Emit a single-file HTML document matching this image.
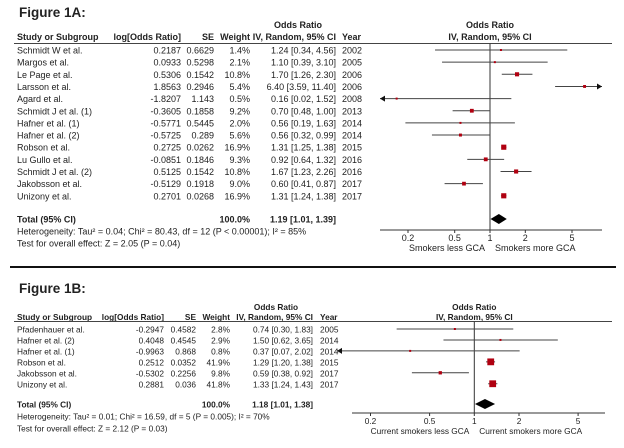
<!DOCTYPE html>
<html><head><meta charset="utf-8"><style>
body{margin:0;background:#fff;}
svg{display:block;font-family:"Liberation Sans",Arial,sans-serif;}
text{fill:#222;}
</style></head><body>
<svg id="c" width="624" height="448" viewBox="0 0 624 448"></svg>
<script>
// ---- Figure 1A data ----
const studiesA = ["Schmidt W et al.","Margos et al.","Le Page et al.","Larsson et al.","Agard et al.","Schmidt J et al. (1)","Hafner et al. (1)","Hafner et al. (2)","Robson et al.","Lu Gullo et al.","Schmidt J et al. (2)","Jakobsson et al.","Unizony et al."];
const logA = ["0.2187","0.0933","0.5306","1.8563","-1.8207","-0.3605","-0.5771","-0.5725","0.2725","-0.0851","0.5125","-0.5129","0.2701"];
const seA = ["0.6629","0.5298","0.1542","0.2946","1.143","0.1858","0.5445","0.289","0.0262","0.1846","0.1542","0.1918","0.0268"];
const weightA = [1.4,2.1,10.8,5.4,0.5,9.2,2.0,5.6,16.9,9.3,10.8,9.0,16.9];
const orA = [1.24,1.10,1.70,6.40,0.16,0.70,0.56,0.56,1.31,0.92,1.67,0.60,1.31];
const loA = [0.34,0.39,1.26,3.59,0.02,0.48,0.19,0.32,1.25,0.64,1.23,0.41,1.24];
const hiA = [4.56,3.10,2.30,11.40,1.52,1.00,1.63,0.99,1.38,1.32,2.26,0.87,1.38];
const yearA = ["2002","2005","2006","2006","2008","2013","2014","2014","2015","2016","2016","2017","2017"];
const totalA = [1.19,1.01,1.39];
// ---- Figure 1B data ----
const studiesB = ["Pfadenhauer et al.","Hafner et al. (2)","Hafner et al. (1)","Robson et al.","Jakobsson et al.","Unizony et al."];
const logB = ["-0.2947","0.4048","-0.9963","0.2512","-0.5302","0.2881"];
const seB = ["0.4582","0.4545","0.868","0.0352","0.2256","0.036"];
const weightB = [2.8,2.9,0.8,41.9,9.8,41.8];
const orB = [0.74,1.50,0.37,1.29,0.59,1.33];
const loB = [0.30,0.62,0.07,1.20,0.38,1.24];
const hiB = [1.83,3.65,2.02,1.38,0.92,1.43];
const yearB = ["2005","2014","2014","2015","2017","2017"];
const totalB = [1.18,1.01,1.38];
const ticks = [0.2,0.5,1,2,5];
const tickLabels = ["0.2","0.5","1","2","5"];

const svg = document.getElementById('c');
const NS = 'http://www.w3.org/2000/svg';
function el(tag, attrs, txt){const e=document.createElementNS(NS,tag);for(const k in attrs)e.setAttribute(k,attrs[k]);if(txt!==undefined)e.textContent=txt;svg.appendChild(e);return e;}
function t(x,y,s,anchor,size,bold,name){const e=el('text',{x:x,y:y,'font-size':size||10,'text-anchor':anchor||'start','font-weight':bold?'bold':'normal'},s);

return e;}

function panel(P){
  const xs = v => P.x1 + Math.log10(v)*P.k;
  const H=P.hf, B=P.bf;
  t(19,P.titleY,P.title,'start',13.5,true,'figure-title');
  t(P.orHX,P.h1Y,'Odds Ratio','middle',H,true,'col-header-or');
  t(P.x1,P.h1Y,'Odds Ratio','middle',H,true,'plot-header-or');
  t(17,P.h2Y,'Study or Subgroup','start',H,true,'col-header-study');
  t(P.logR,P.h2Y,'log[Odds Ratio]','end',H,true,'col-header-log');
  t(P.seR,P.h2Y,'SE','end',H,true,'col-header-se');
  t(P.wR,P.h2Y,'Weight','end',H,true,'col-header-weight');
  t(P.ciR,P.h2Y,'IV, Random, 95% CI','end',H,true,'col-header-ci');
  t(P.yrX,P.h2Y,'Year','start',H,true,'col-header-year');
  t(P.x1,P.h2Y,'IV, Random, 95% CI','middle',H,true,'plot-header-ci');
  let r=el('line',{x1:14,x2:612,y1:P.ruleY,y2:P.ruleY,stroke:'#444','stroke-width':1});
  
  
  let ax=el('line',{x1:P.axL,x2:P.axR,y1:P.axY,y2:P.axY,stroke:'#333','stroke-width':1});
  
  
  let ref=el('line',{x1:xs(1),x2:xs(1),y1:P.ruleY,y2:P.axY,stroke:'#333','stroke-width':1});
  
  
  ticks.forEach((v,i)=>{
    let tk=el('line',{x1:xs(v),x2:xs(v),y1:P.axY,y2:P.axY+3,stroke:'#333'});
    
    
    t(xs(v),P.axY+11,tickLabels[i],'middle',B,false,'x-tick-label');
  });
  t(xs(1)-5,P.axY+21,P.lessLbl,'end',B,false,'axis-label-left');
  t(xs(1)+5,P.axY+21,P.moreLbl,'start',B,false,'axis-label-right');
  P.studies.forEach((s,i)=>{
    const y=P.row0+i*P.dy;
    t(17,y+3.5,s,'start',B,false,'study-name');
    t(P.logR,y+3.5,P.log[i],'end',B,false,'log-or');
    t(P.seR,y+3.5,P.se[i],'end',B,false,'se');
    t(P.wR,y+3.5,P.w[i].toFixed(1)+'%','end',B,false,'weight');
    t(P.ciR,y+3.5,P.or[i].toFixed(2)+' ['+P.lo[i].toFixed(2)+', '+P.hi[i].toFixed(2)+']','end',B,false,'ci-text');
    t(P.yrX,y+3.5,P.yr[i],'start',B,false,'year');
    let a=xs(P.lo[i]),b=xs(P.hi[i]);
    const la=a<P.clipL, rb=b>P.clipR;
    a=Math.max(a,P.clipL); b=Math.min(b,P.clipR);
    let ln=el('line',{x1:a,x2:b,y1:y,y2:y,stroke:'#444','stroke-width':1});
    
    
    if(la){let p=el('polygon',{points:`${a},${y} ${a+5},${y-3} ${a+5},${y+3}`,fill:'#111'});
      
      }
    if(rb){let p=el('polygon',{points:`${b},${y} ${b-5},${y-3} ${b-5},${y+3}`,fill:'#111'});
      
      }
    const sz=Math.max(2,Math.sqrt(P.w[i])*P.sq);
    let sq=el('rect',{x:xs(P.or[i])-sz/2,y:y-sz/2,width:sz,height:sz,fill:'#b00010'});
    
    
  });
  const ty=P.totY;
  t(17,ty+3.5,'Total (95% CI)','start',H,true,'total-label');
  t(P.wR,ty+3.5,'100.0%','end',H,true,'total-weight');
  t(P.ciR,ty+3.5,P.tot[0].toFixed(2)+' ['+P.tot[1].toFixed(2)+', '+P.tot[2].toFixed(2)+']','end',H,true,'total-ci');
  let d=el('polygon',{points:`${xs(P.tot[1])},${ty} ${xs(P.tot[0])},${ty-5} ${xs(P.tot[2])},${ty} ${xs(P.tot[0])},${ty+5}`,fill:'#000'});
  
  
  t(17,ty+15.5,P.het,'start',B,false,'heterogeneity');
  t(17,ty+27.5,P.test,'start',B,false,'overall-effect');
}

panel({title:'Figure 1A:',titleY:17,h1Y:28,h2Y:40,ruleY:43.5,row0:50,dy:12.15,totY:219,hf:9,bf:9,orHX:298,
  logR:181,seR:214,wR:250,ciR:336,yrX:342,x1:490,k:117.3,axL:380,axR:602,axY:230,clipL:380,clipR:602,sq:1.25,
  lessLbl:'Smokers less GCA',moreLbl:'Smokers more GCA',
  studies:studiesA,log:logA,se:seA,w:weightA,or:orA,lo:loA,hi:hiA,yr:yearA,tot:totalA,
  het:'Heterogeneity: Tau² = 0.04; Chi² = 80.43, df = 12 (P < 0.00001); I² = 85%',test:'Test for overall effect: Z = 2.05 (P = 0.04)'});

let sep=el('line',{x1:10,x2:616,y1:267,y2:267,stroke:'#111','stroke-width':2});



panel({title:'Figure 1B:',titleY:293,h1Y:310,h2Y:320,ruleY:321.5,row0:329,dy:10.95,totY:404,hf:8.3,bf:8.3,orHX:276,
  logR:164,seR:196,wR:230,ciR:313,yrX:320,x1:474.3,k:148.5,axL:352,axR:605,axY:413,clipL:337,clipR:605,sq:1.05,
  lessLbl:'Current smokers less GCA',moreLbl:'Current smokers more GCA',
  studies:studiesB,log:logB,se:seB,w:weightB,or:orB,lo:loB,hi:hiB,yr:yearB,tot:totalB,
  het:'Heterogeneity: Tau² = 0.01; Chi² = 16.59, df = 5 (P = 0.005); I² = 70%',test:'Test for overall effect: Z = 2.12 (P = 0.03)'});
</script>
</body></html>
